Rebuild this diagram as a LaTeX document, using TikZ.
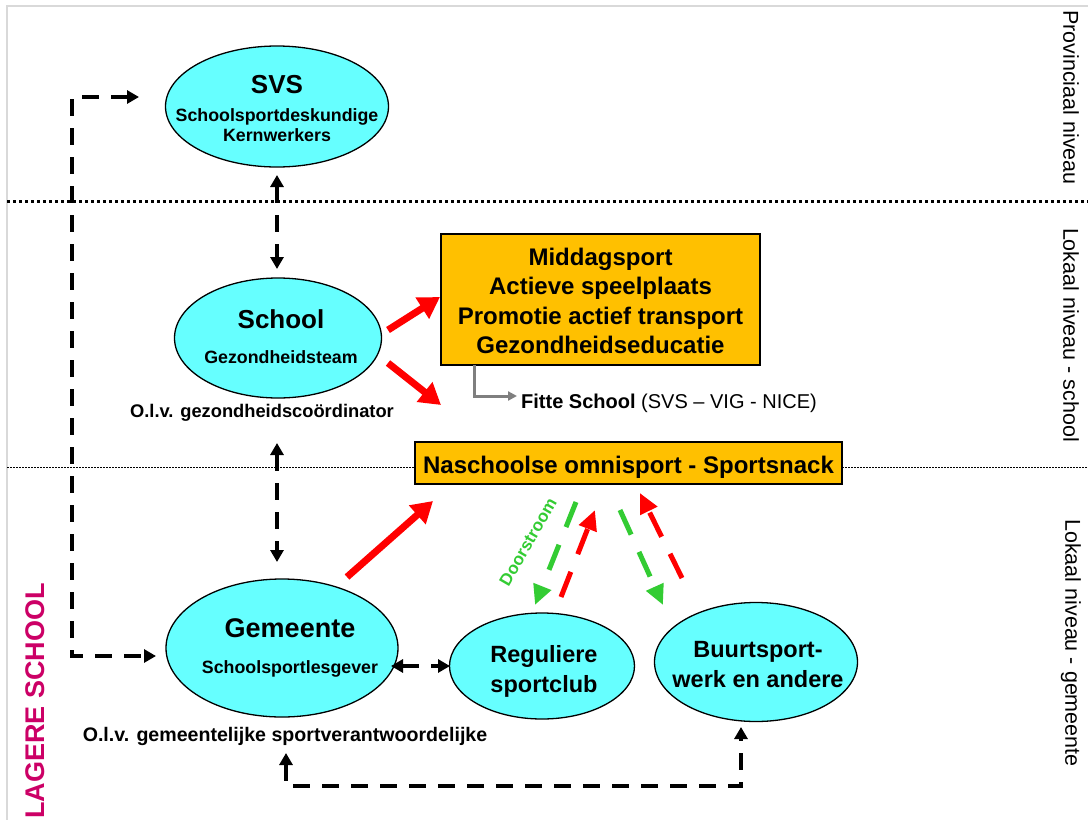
\documentclass[tikz,border=0pt]{standalone}
\usepackage{fontspec}
\setmainfont{Liberation Sans}
\usetikzlibrary{arrows.meta,shapes.geometric}
\definecolor{cyanfill}{HTML}{66FFFF}
\definecolor{orangefill}{HTML}{FFC000}
\definecolor{redarrow}{HTML}{FF0000}
\definecolor{greenarrow}{HTML}{33CC33}
\definecolor{magentatext}{HTML}{CC0066}
\definecolor{framegray}{HTML}{D9D9D9}
\definecolor{connectorgray}{HTML}{7F7F7F}
\begin{document}
\begin{tikzpicture}[x=1pt,y=-1pt,
  ell/.style={ellipse, draw=black, line width=1.3pt, fill=cyanfill, inner sep=0pt},
  obox/.style={rectangle, draw=black, line width=1.3pt, fill=orangefill, inner sep=0pt},
  titletxt/.style={font=\fontsize{26}{30}\selectfont\bfseries, anchor=base},
  subtxt/.style={font=\fontsize{17.8}{20}\selectfont\bfseries, anchor=base},
  boxtxt/.style={font=\fontsize{24}{28}\selectfont\bfseries, anchor=base},
  clubtxt/.style={font=\fontsize{23.5}{28}\selectfont\bfseries, anchor=base},
  olvtxt/.style={font=\fontsize{18.3}{22}\selectfont\bfseries, anchor=base},
  sidetxt/.style={font=\fontsize{21.5}{24}\selectfont, rotate=-90},
  blkarrow/.style={draw=black, line width=4pt, dash pattern=on 17pt off 12pt,
     {Triangle[length=12pt,width=13pt]}-{Triangle[length=12pt,width=13pt]}},
  redsolid/.style={draw=redarrow, line width=7pt, -{Triangle[length=21pt,width=24pt]}},
  reddash/.style={draw=redarrow, line width=5pt, dash pattern=on 27pt off 19pt, -{Triangle[length=20pt,width=18pt]}},
  greendash/.style={draw=greenarrow, line width=5pt, dash pattern=on 27pt off 19pt, -{Triangle[length=20pt,width=18pt]}},
  grayconn/.style={draw=connectorgray, line width=3pt, -{Triangle[length=9pt,width=9pt]}}
]
\useasboundingbox (0,0) rectangle (1088,820);
\clip (0,0) rectangle (1088,820);
\fill[white] (0,0) rectangle (1088,820);

% frame
\draw[framegray, line width=1.5pt] (7,820) -- (7,6) -- (1088,6);

% level separators
\draw[black, line width=3pt, dash pattern=on 3pt off 3pt] (7,201) -- (1088,201);
\draw[black, line width=0.8pt, dash pattern=on 1.5pt off 1.5pt] (7,467) -- (415,467);
\draw[black, line width=0.8pt, dash pattern=on 1.5pt off 1.5pt] (842,467) -- (1088,467);

% side labels
\node[sidetxt] (lprov) at (1071,97.5) {Provinciaal niveau};
\node[sidetxt] (lschool) at (1071,335) {Lokaal niveau - school};
\node[sidetxt] (lgem) at (1071,643) {Lokaal niveau - gemeente};
\node[font=\fontsize{27}{30}\selectfont\bfseries, text=magentatext, rotate=90, anchor=east, inner sep=0pt] (lagere) at (35.5,583) {LAGERE SCHOOL};

% ellipses
\node[ell, minimum width=223pt, minimum height=121pt] (svs) at (277,106.5) {};
\node[titletxt] (svsA) at (277,93) {SVS};
\node[subtxt] (svsB) at (277,121) {Schoolsportdeskundige};
\node[subtxt] (svsC) at (277,141) {Kernwerkers};

\node[ell, minimum width=207pt, minimum height=120pt] (school) at (278,338) {};
\node[titletxt] (schoolA) at (281,328) {School};
\node[subtxt] (schoolB) at (281,363) {Gezondheidsteam};
\node[olvtxt] (schoolC) at (262,417) {O.l.v. gezondheidscoördinator};

\node[ell, minimum width=232pt, minimum height=138pt] (gem) at (282,648) {};
\node[titletxt, font=\fontsize{27}{30}\selectfont\bfseries] (gemA) at (290,637) {Gemeente};
\node[subtxt] (gemB) at (290,673) {Schoolsportlesgever};
\node[olvtxt, font=\fontsize{19.6}{22}\selectfont\bfseries] (gemC) at (285,741) {O.l.v. gemeentelijke sportverantwoordelijke};

\node[ell, minimum width=185pt, minimum height=106pt] (reg) at (542,666) {};
\node[clubtxt] (regA) at (544,662) {Reguliere};
\node[clubtxt] (regB) at (544,692) {sportclub};

\node[ell, minimum width=203pt, minimum height=119pt] (buurt) at (756,662) {};
\node[clubtxt] (buurtA) at (758,657) {Buurtsport-};
\node[clubtxt] (buurtB) at (758,687) {werk en andere};

% orange boxes
\node[obox, minimum width=319pt, minimum height=131pt] (act) at (600.5,299.5) {};
\node[boxtxt] (actA) at (600.5,265) {Middagsport};
\node[boxtxt] (actB) at (600.5,294.5) {Actieve speelplaats};
\node[boxtxt] (actC) at (600.5,324) {Promotie actief transport};
\node[boxtxt] (actD) at (600.5,353) {Gezondheidseducatie};

\node[obox, minimum width=427pt, minimum height=42pt] (nas) at (628.5,463) {};
\node[boxtxt] (nasA) at (628.5,473) {Naschoolse omnisport - Sportsnack};

% Fitte School
\node[font=\fontsize{20}{24}\selectfont, anchor=base west, inner sep=0pt] (fitte) at (521,408) {\textbf{Fitte School} (SVS – VIG - NICE)};
\coordinate (fitteIn) at (517,396);
\coordinate (actOut) at (474,365);
\draw[grayconn] (actOut) -- (474,396) -- (fitteIn);

% black dashed connectors
\coordinate (svsBot) at (277,175);
\coordinate (schoolTop) at (277,269);
\draw[blkarrow] (svsBot) -- (schoolTop);

\coordinate (schoolBot) at (277,443);
\coordinate (gemTop) at (277,562);
\draw[blkarrow] (schoolBot) -- (gemTop);

\coordinate (svsLeft) at (139,97);
\coordinate (gemLeft) at (156,656);
\draw[blkarrow] (svsLeft) -- (72,97) -- (72,656) -- (gemLeft);

\coordinate (gemRight) at (391,666);
\coordinate (regLeft) at (450,666);
\draw[blkarrow] (gemRight) -- (regLeft);

\coordinate (gemBelow) at (286,753);
\coordinate (buurtBelow) at (741,727);
\draw[blkarrow] (gemBelow) -- (286,786) -- (741,786) -- (buurtBelow);

% red solid arrows
\coordinate (schoolR1) at (388,330);
\coordinate (actIn) at (440,297);
\draw[redsolid] (schoolR1) -- (actIn);
\coordinate (schoolR2) at (388,363);
\coordinate (fitteTo) at (441,405);
\draw[redsolid] (schoolR2) -- (fitteTo);
\coordinate (gemR) at (347,577);
\coordinate (nasIn) at (433,501);
\draw[redsolid] (gemR) -- (nasIn);

% green / red dashed arrows
\coordinate (nasG1) at (576,502);
\coordinate (regG1) at (535,605);
\draw[greendash] (nasG1) -- (regG1);
\coordinate (regR1) at (561,597);
\coordinate (nasR1) at (595,510);
\draw[reddash] (regR1) -- (nasR1);
\coordinate (nasG2) at (620,510);
\coordinate (buurtG2) at (663,605);
\draw[greendash] (nasG2) -- (buurtG2);
\coordinate (buurtR2) at (682,578);
\coordinate (nasR2) at (640,493);
\draw[reddash] (buurtR2) -- (nasR2);

\node[font=\fontsize{17}{19}\selectfont\bfseries, text=greenarrow, rotate=60, inner sep=0pt] (door) at (528,542) {Doorstroom};
\end{tikzpicture}
\end{document}
